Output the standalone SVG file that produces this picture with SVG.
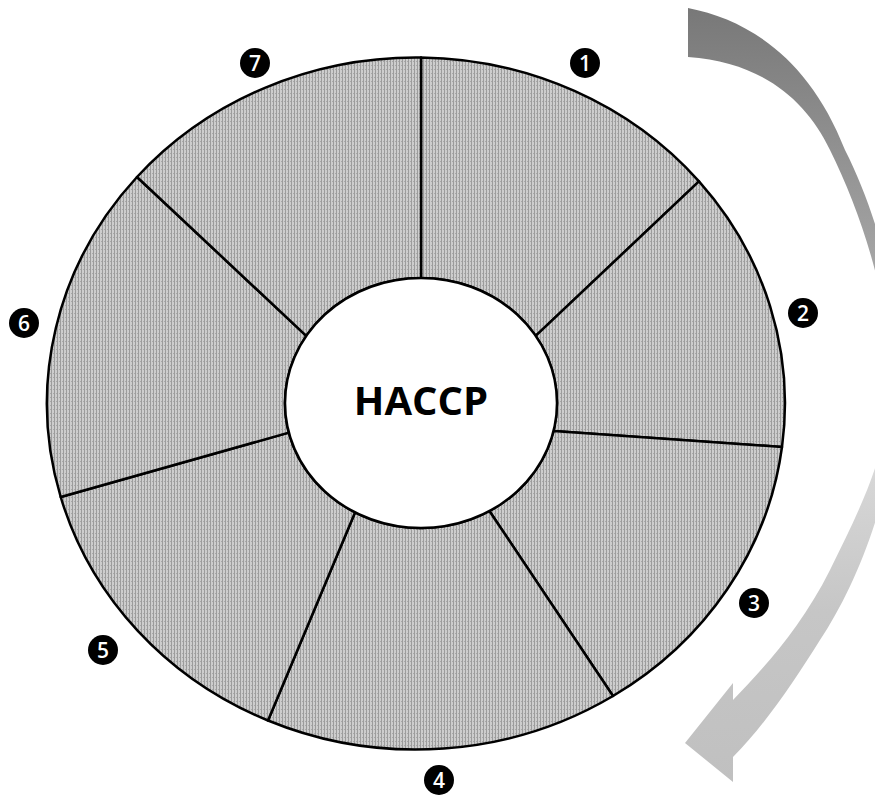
<svg xmlns="http://www.w3.org/2000/svg" width="875" height="796" viewBox="0 0 875 796">
<defs>
<pattern id="tex" width="3" height="4" patternUnits="userSpaceOnUse">
<rect width="3" height="4" fill="#cdcdcd"/>
<rect x="0" y="0" width="1" height="4" fill="#9c9c9c"/>
<rect x="2" y="1" width="1" height="1" fill="#a8a8a8"/>
</pattern>
<linearGradient id="arrowGrad" gradientUnits="userSpaceOnUse" x1="0" y1="8" x2="0" y2="782">
<stop offset="0" stop-color="#787878"/>
<stop offset="0.34" stop-color="#a6a6a6"/>
<stop offset="0.48" stop-color="#f2f2f2"/>
<stop offset="0.61" stop-color="#d6d6d6"/>
<stop offset="0.78" stop-color="#c6c6c6"/>
<stop offset="1" stop-color="#c0c0c0"/>
</linearGradient>
</defs>
<style>
.seg{fill:url(#tex);stroke:#000;stroke-width:2.5;stroke-linejoin:round}
.num circle{fill:#000}
.num text{fill:#fff;font-family:"Open Sans","Liberation Sans",sans-serif;font-size:21px;font-weight:600;text-anchor:middle}
.title{font-family:"Open Sans","Liberation Sans",sans-serif;font-size:40px;font-weight:700;text-anchor:middle;fill:#000}
</style>
<rect width="875" height="796" fill="#fff"/>
<g id="connectors">
<path id="cycle-arrow" fill="url(#arrowGrad)" d="M688,8 C750,20 810,60 845,150 C878,215 900,300 900,380 C898,480 860,580 820,640 C795,680 765,725 733,757 L733,782 L685,743 L733,683 L733,700 C760,672 800,630 830,570 C862,505 890,450 890,380 C890,300 862,215 830,150 C805,98 760,62 688,57 Z"/>
</g>
<g id="segment-1"><path class="seg" d="M421,278 L421,57.5 A369 346 0 0 1 699,181.4 L535.7,335.9 A136 125 0 0 0 421,278 Z"/></g>
<g id="segment-2"><path class="seg" d="M535.7,335.9 L699,181.4 A369 346 0 0 1 782,447 L553.5,431.1 A136 125 0 0 0 535.7,335.9 Z"/></g>
<g id="segment-3"><path class="seg" d="M553.5,431.1 L782,447 A369 346 0 0 1 613,696 L489.4,511 A136 125 0 0 0 553.5,431.1 Z"/></g>
<g id="segment-4"><path class="seg" d="M489.4,511 L613,696 A369 346 0 0 1 268,720.5 L355,512.4 A136 125 0 0 0 489.4,511 Z"/></g>
<g id="segment-5"><path class="seg" d="M355,512.4 L268,720.5 A369 346 0 0 1 60.7,497 L288.8,432.6 A136 125 0 0 0 355,512.4 Z"/></g>
<g id="segment-6"><path class="seg" d="M288.8,432.6 L60.7,497 A369 346 0 0 1 137,177 L306.3,335.9 A136 125 0 0 0 288.8,432.6 Z"/></g>
<g id="segment-7"><path class="seg" d="M306.3,335.9 L137,177 A369 346 0 0 1 421,57.5 L421,278 A136 125 0 0 0 306.3,335.9 Z"/></g>
<g id="center">
<ellipse cx="421" cy="403" rx="136" ry="125" fill="#fff" stroke="#000" stroke-width="2.5"/>
<text class="title" x="421" y="415">HACCP</text>
</g>
<g id="label-1" class="num"><circle cx="585" cy="63" r="15"/><text x="585" y="70.5">1</text></g>
<g id="label-2" class="num"><circle cx="803" cy="313" r="15"/><text x="803" y="320.5">2</text></g>
<g id="label-3" class="num"><circle cx="754" cy="603" r="15"/><text x="754" y="610.5">3</text></g>
<g id="label-4" class="num"><circle cx="439" cy="780" r="15"/><text x="439" y="787.5">4</text></g>
<g id="label-5" class="num"><circle cx="103" cy="650" r="15"/><text x="103" y="657.5">5</text></g>
<g id="label-6" class="num"><circle cx="24" cy="323" r="15"/><text x="24" y="330.5">6</text></g>
<g id="label-7" class="num"><circle cx="255" cy="63" r="15"/><text x="255" y="70.5">7</text></g>
</svg>
